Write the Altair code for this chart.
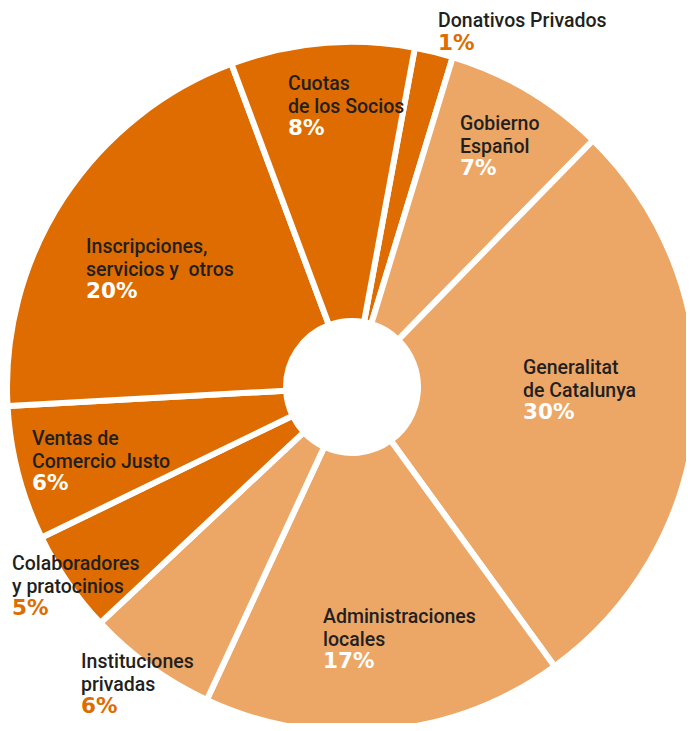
import math
import altair as alt
import pandas as pd

# ---- data ----
categories = [
    "Donativos Privados",
    "Gobierno\nEspañol",
    "Generalitat\nde Catalunya",
    "Administraciones\nlocales",
    "Instituciones\nprivadas",
    "Colaboradores\ny pratocinios",
    "Ventas de\nComercio Justo",
    "Inscripciones,\nservicios y\u00a0 otros",
    "Cuotas\nde los Socios",
]
values = [1.8, 7.6, 27.7, 16.9, 6.1, 4.8, 6.3, 20.2, 8.6]
pct_labels = ["1%", "7%", "30%", "17%", "6%", "5%", "6%", "20%", "8%"]
groups = ["Fondos propios", "Subvenciones", "Subvenciones", "Subvenciones",
          "Subvenciones", "Fondos propios", "Fondos propios", "Fondos propios",
          "Fondos propios"]

# ---- label layout (annotation anchors, px) ----
label_x = [430, 452, 515, 315, 73, 4, 24, 78, 280]
label_y = [19, 122, 366, 615, 660, 562, 437, 245, 82]
pct_place = ["fuera", "dentro", "dentro", "dentro", "fuera", "fuera",
             "dentro", "dentro", "dentro"]

W, H = 678, 715
CX, CY = 344, 379
LINE_H = 22.7
start = math.radians(10.5)

df = pd.DataFrame({
    "categoria": categories,
    "valor": values,
    "pct": pct_labels,
    "grupo": groups,
    "orden": list(range(len(categories))),
    "lx": label_x,
    "ly": label_y,
    "lugar": pct_place,
})
df["py"] = df["ly"] + df["categoria"].str.count("\n").add(1) * LINE_H

base = alt.Chart(df)

pie = base.mark_arc(outerRadius=345, innerRadius=66, stroke="white",
                    strokeWidth=6).encode(
    theta=alt.Theta("valor:Q", stack=True,
                    scale=alt.Scale(range=[start, start + 2 * math.pi])),
    order=alt.Order("orden:Q"),
    color=alt.Color("grupo:N",
                    scale=alt.Scale(domain=["Fondos propios", "Subvenciones"],
                                    range=["#DE6C00", "#ECA766"]),
                    legend=None),
    x=alt.value(CX),
    y=alt.value(CY),
)

xs = alt.Scale(domain=[0, W], range=[0, W], nice=False, zero=False)
ys = alt.Scale(domain=[0, H], range=[0, H], nice=False, zero=False)

names = base.mark_text(align="left", baseline="alphabetic", font="Roboto",
                       fontSize=19.5, fontWeight=500, lineHeight=LINE_H,
                       lineBreak="\n", color="#231F20").encode(
    x=alt.X("lx:Q", scale=xs, axis=None),
    y=alt.Y("ly:Q", scale=ys, axis=None),
    text="categoria:N",
)

pcts = base.mark_text(align="left", baseline="alphabetic", font="DejaVu Sans",
                      fontSize=21.5, fontWeight="bold").encode(
    x=alt.X("lx:Q", scale=xs, axis=None),
    y=alt.Y("py:Q", scale=ys, axis=None),
    text="pct:N",
    color=alt.Color("lugar:N",
                    scale=alt.Scale(domain=["dentro", "fuera"],
                                    range=["#FFFFFF", "#DE6C00"]),
                    legend=None),
)

chart = alt.layer(pie, names, pcts).resolve_scale(
    color="independent"
).properties(
    width=W, height=H, padding=0,
    autosize=alt.AutoSizeParams(type="none"),
).configure_view(stroke=None)

chart.save("out.html", embed_options={"renderer": "svg", "actions": False})
